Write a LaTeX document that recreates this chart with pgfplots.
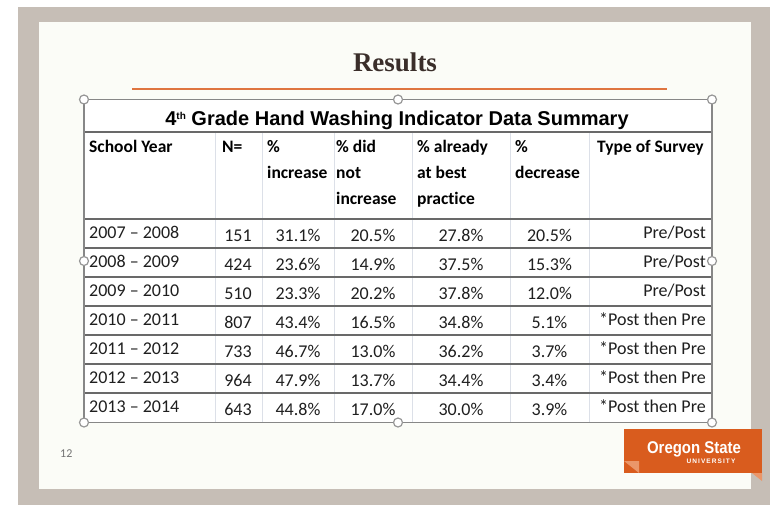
\documentclass[border=0pt]{standalone}
\usepackage{pgfplots}
\pgfplotsset{compat=1.18}
\usepackage{pgfplotstable}
\usepackage{fontspec}
\setmainfont{Carlito}[Ligatures={NoCommon,NoRare}]
\newfontfamily\arialfont{Liberation Sans}
\newfontfamily\seriffont{Liberation Serif}
\definecolor{bandgray}{RGB}{198,190,182}
\definecolor{slide}{RGB}{251,252,247}
\definecolor{osuorange}{RGB}{217,92,30}
\definecolor{osulight}{RGB}{234,150,105}
\definecolor{rulegray}{RGB}{105,105,105}
\definecolor{vline}{RGB}{220,224,232}
\definecolor{handle}{RGB}{150,150,150}
\definecolor{titlebrown}{RGB}{58,46,42}
\newcommand\datafont{\fontsize{18bp}{22bp}\selectfont}
\newcommand\headfont{\bfseries\fontsize{17.5bp}{26bp}\selectfont}

\pgfplotstableread[col sep=comma]{
row,year,N,inc,dni,abp,dec,type
0,2007 – 2008,151,31.1,20.5,27.8,20.5,Pre/Post
1,2008 – 2009,424,23.6,14.9,37.5,15.3,Pre/Post
2,2009 – 2010,510,23.3,20.2,37.8,12.0,Pre/Post
3,2010 – 2011,807,43.4,16.5,34.8,5.1,*Post then Pre
4,2011 – 2012,733,46.7,13.0,36.2,3.7,*Post then Pre
5,2012 – 2013,964,47.9,13.7,34.4,3.4,*Post then Pre
6,2013 – 2014,643,44.8,17.0,30.0,3.9,*Post then Pre
}\datatable

\pgfplotsset{celltext/.style={draw=none, mark=none, nodes near coords, point meta=explicit symbolic,
  every node near coord/.append style={font=\datafont, inner sep=0pt, text=black!88, #1}}}
\tikzset{head/.style={anchor=base west, font=\headfont, inner sep=0pt}}

\begin{document}
\begin{tikzpicture}
\begin{axis}[
  width=770bp, height=506bp, scale only axis,
  xmin=0, xmax=770, ymin=0, ymax=506, y dir=reverse,
  hide axis, clip=false,
]
% background
\fill[white] (axis cs:0,0) rectangle (axis cs:770,506);
\fill[bandgray] (axis cs:18,7) rectangle (axis cs:770,505);
\fill[slide] (axis cs:39,22) rectangle (axis cs:751,489);
% title
\node[anchor=base, font=\seriffont\bfseries\fontsize{27bp}{30bp}\selectfont, text=titlebrown, inner sep=0pt] at (axis cs:395,72) {Results};
\draw[osuorange!85, line width=1.3bp] (axis cs:132,89) -- (axis cs:667,89);
% table frame
\fill[white] (axis cs:84,99) rectangle (axis cs:712,423);
\pgfplotsinvokeforeach{215,262,334,412,510,589}{
  \draw[vline, line width=1bp] (axis cs:#1,132) -- (axis cs:#1,423);
}
\pgfplotsinvokeforeach{132,219,248,277,306,335,364,393}{
  \draw[rulegray, line width=1.6bp] (axis cs:84,#1) -- (axis cs:712,#1);
}
\draw[handle!90!black, line width=1.4bp] (axis cs:84,99.5) -- (axis cs:712,99.5);
\draw[handle!90!black, line width=1.4bp] (axis cs:84,422.5) -- (axis cs:712,422.5);
\draw[handle!90!black, line width=1.2bp] (axis cs:84,99.5) -- (axis cs:84,422.5);
\draw[handle!90!black, line width=1.2bp] (axis cs:712,99.5) -- (axis cs:712,422.5);
% table title
\node[anchor=base, font=\arialfont\bfseries\fontsize{20bp}{24bp}\selectfont, inner sep=0pt] at (axis cs:397,125)
  {4\raisebox{0.55ex}{\fontsize{10bp}{10bp}\selectfont th} Grade Hand Washing Indicator Data Summary};
% header
\node[head] at (axis cs:89,152) {School Year};
\node[head] at (axis cs:222,152) {N=};
\node[head] at (axis cs:267,152) {\%};
\node[head] at (axis cs:267,178) {increase};
\node[head] at (axis cs:336,152) {\% did};
\node[head] at (axis cs:336,178) {not};
\node[head] at (axis cs:336,204) {increase};
\node[head] at (axis cs:417,152) {\% already};
\node[head] at (axis cs:417,178) {at best};
\node[head] at (axis cs:417,204) {practice};
\node[head] at (axis cs:515,152) {\%};
\node[head] at (axis cs:515,178) {decrease};
\node[head] at (axis cs:597,152) {Type of Survey};
% data cells
\addplot[celltext={anchor=base west}] table[x expr=89, y expr=238.5+29*\thisrow{row}, meta=year] {\datatable};
\addplot[celltext={anchor=base}] table[x expr=238, y expr=241+29*\thisrow{row}, meta=N] {\datatable};
\addplot[celltext={anchor=base}, nodes near coords={\pgfplotspointmeta\%}] table[x expr=298, y expr=241+29*\thisrow{row}, meta=inc] {\datatable};
\addplot[celltext={anchor=base}, nodes near coords={\pgfplotspointmeta\%}] table[x expr=373, y expr=241+29*\thisrow{row}, meta=dni] {\datatable};
\addplot[celltext={anchor=base}, nodes near coords={\pgfplotspointmeta\%}] table[x expr=461, y expr=241+29*\thisrow{row}, meta=abp] {\datatable};
\addplot[celltext={anchor=base}, nodes near coords={\pgfplotspointmeta\%}] table[x expr=549.5, y expr=241+29*\thisrow{row}, meta=dec] {\datatable};
\addplot[celltext={anchor=base east}] table[x expr=706, y expr=238.5+29*\thisrow{row}, meta=type] {\datatable};
% selection handles
\filldraw[fill=white, draw=handle, line width=1.2bp] (axis cs:84,99.5) circle[radius=4.5bp];
\filldraw[fill=white, draw=handle, line width=1.2bp] (axis cs:398,99.5) circle[radius=4.5bp];
\filldraw[fill=white, draw=handle, line width=1.2bp] (axis cs:712,99.5) circle[radius=4.5bp];
\filldraw[fill=white, draw=handle, line width=1.2bp] (axis cs:84,261) circle[radius=4.5bp];
\filldraw[fill=white, draw=handle, line width=1.2bp] (axis cs:712,261) circle[radius=4.5bp];
\filldraw[fill=white, draw=handle, line width=1.2bp] (axis cs:84,422.5) circle[radius=4.5bp];
\filldraw[fill=white, draw=handle, line width=1.2bp] (axis cs:398,422.5) circle[radius=4.5bp];
\filldraw[fill=white, draw=handle, line width=1.2bp] (axis cs:712,422.5) circle[radius=4.5bp];
% page number
\node[anchor=base west, font=\fontsize{12bp}{14bp}\selectfont, text=black!55, inner sep=0pt] at (axis cs:60,457) {12};
% logo
\fill[osuorange] (axis cs:624,429) rectangle (axis cs:762,473);
\fill[osulight] (axis cs:624,461) -- (axis cs:639,461) -- (axis cs:639,473) -- cycle;
\fill[osulight] (axis cs:752,473) -- (axis cs:762,473) -- (axis cs:762,481) -- cycle;
\node[anchor=base, font=\arialfont\bfseries\fontsize{17bp}{19bp}\selectfont, text=white, inner sep=0pt] at (axis cs:694,453) {\scalebox{0.88}[1]{Oregon State}};
\node[anchor=base, font=\arialfont\bfseries\fontsize{6.5bp}{7bp}\selectfont, text=white, inner sep=0pt] at (axis cs:711,463) {U\,N\,I\,V\,E\,R\,S\,I\,T\,Y};
\end{axis}
\end{tikzpicture}
\end{document}
